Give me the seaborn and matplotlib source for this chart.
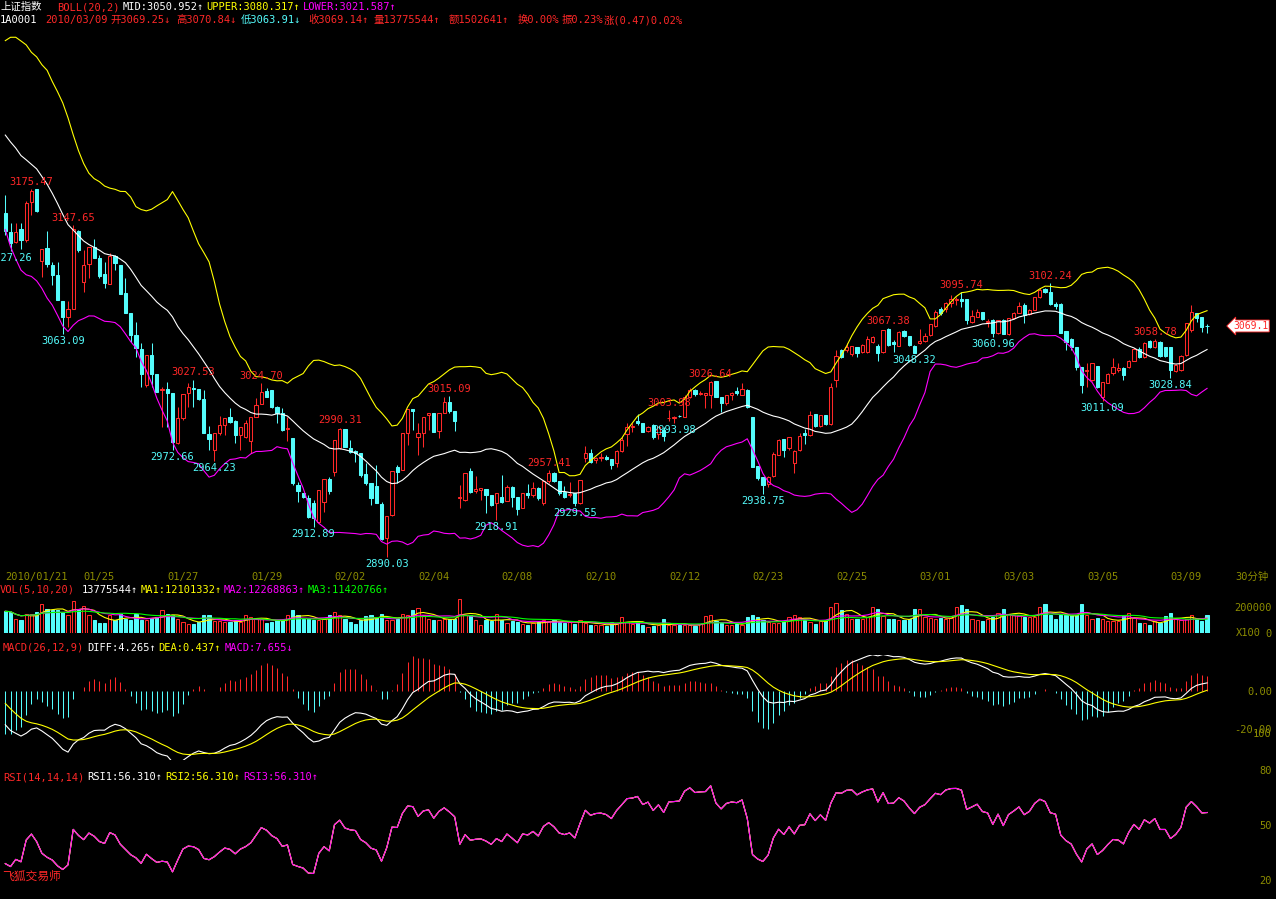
import numpy as np
import pandas as pd
import matplotlib
matplotlib.use("Agg")
import matplotlib.pyplot as plt
import seaborn as sns

# ---------------------------------------------------------------------------
# 上证指数 30-minute bars, 2010/01/21 (last 7 bars) .. 2010/03/09
# ---------------------------------------------------------------------------
# closes before the visible window (01/15 .. first bar of 01/21),
# only used to warm up BOLL / MACD / RSI
warmup_close = [3205, 3222, 3208, 3226, 3212, 3230, 3218, 3224,
                3240, 3222, 3236, 3218, 3233, 3224, 3241, 3237,
                3252, 3231, 3245, 3228, 3248, 3236, 3252, 3247,
                3245, 3240, 3228, 3215, 3200, 3185, 3165, 3152, 3157]

opens = [
    3156.6, 3141.8, 3134.0, 3144.1, 3135.9, 3165.6, 3175.2,
    3119.6, 3129.4, 3116.4, 3108.7, 3088.5, 3076.3, 3082.5, 3143.1,
    3103.5, 3117.0, 3130.2, 3121.6, 3109.5, 3101.4, 3123.4, 3116.4,
    3094.4, 3079.4, 3062.1, 3051.2, 3023.3, 3046.6, 3031.8, 3019.4,
    3020.2, 3017.3, 2978.0, 2997.4, 3016.8, 3020.7, 3019.9, 3012.2,
    2985.0, 2972.9, 2985.8, 2992.3, 2998.8, 2995.4, 2984.5, 2983.2,
    2980.1, 2998.3, 3008.3, 3019.0, 3019.5, 3006.0, 3001.4, 2989.4,
    2981.9, 2945.7, 2939.8, 2935.4, 2932.0, 2917.2, 2932.8, 2950.1,
    2956.1, 2974.2, 2989.4, 2974.2, 2972.4, 2970.8, 2954.0, 2947.0,
    2944.9, 2931.0, 2904.3, 2922.4, 2959.4, 2957.4, 2986.3, 3004.5,
    2983.2, 2986.3, 3000.1, 3001.4, 2987.9, 3001.9, 3010.4, 3003.4,
    2935.5, 2934.1, 2956.6, 2941.3, 2941.8, 2942.6, 2937.7, 2931.5,
    2936.7, 2933.5, 2944.4, 2936.1, 2927.6, 2939.8, 2938.0, 2943.1,
    2932.0, 2949.1, 2955.3, 2948.8, 2940.5, 2938.0, 2939.8, 2931.5,
    2966.4, 2970.3, 2965.1, 2966.4, 2967.7, 2965.6, 2962.5, 2972.4,
    2985.3, 2990.5, 2995.4, 2993.6, 2987.9, 2992.3, 2985.3, 2988.4,
    2997.5, 2997.9, 2999.6, 2998.8, 3014.3, 3019.5, 3016.0, 3015.6,
    3015.6, 3026.6, 3014.3, 3009.1, 3015.6, 3019.0, 3015.6, 3019.5,
    2998.3, 2960.5, 2951.7, 2946.5, 2952.7, 2969.0, 2981.2, 2974.2,
    2963.1, 2972.9, 2985.8, 2984.5, 3000.9, 2991.5, 3000.1, 2993.1,
    3027.2, 3050.5, 3050.5, 3047.4, 3052.6, 3049.2, 3049.2, 3057.0,
    3053.6, 3049.2, 3066.5, 3057.0, 3053.6, 3065.2, 3061.4, 3053.6,
    3056.2, 3057.7, 3062.1, 3069.1, 3082.1, 3082.1, 3086.7, 3089.3,
    3089.8, 3089.8, 3072.5, 3076.4, 3080.2, 3072.5, 3073.8, 3063.4,
    3073.8, 3062.9, 3075.1, 3079.5, 3085.4, 3078.4, 3081.5, 3091.4,
    3097.6, 3095.8, 3086.2, 3086.2, 3065.5, 3058.8, 3052.6, 3037.6,
    3034.5, 3027.2, 3038.1, 3014.3, 3025.2, 3032.4, 3035.0, 3036.3,
    3037.1, 3042.2, 3051.0, 3045.3, 3057.8, 3052.6, 3057.0, 3052.6,
    3052.6, 3034.2, 3035.0, 3046.6, 3066.0, 3079.0, 3076.4, 3069.25,
]
highs = [
    3170.8, 3148.8, 3148.8, 3148.8, 3166.4, 3175.47, 3175.3,
    3129.1, 3142.8, 3118.8, 3118.8, 3088.5, 3088.5, 3147.65, 3143.6,
    3128.1, 3130.2, 3136.6, 3124.2, 3119.0, 3125.5, 3124.2, 3116.4,
    3106.1, 3079.4, 3072.4, 3055.6, 3046.6, 3055.6, 3031.8, 3022.0,
    3026.0, 3017.3, 3006.5, 3016.3, 3024.6, 3027.53, 3019.9, 3019.5,
    2991.5, 2985.8, 2999.3, 2998.0, 3005.2, 2996.2, 2990.5, 2996.2,
    2998.3, 3013.0, 3024.70, 3020.8, 3019.5, 3007.0, 3005.2, 2998.8,
    2981.9, 2948.3, 2939.8, 2937.9, 2934.1, 2941.8, 2950.1, 2952.2,
    2980.7, 2990.31, 2989.4, 2980.7, 2972.9, 2970.8, 2962.5, 2947.0,
    2961.2, 2932.8, 2921.6, 2956.8, 2961.2, 2985.8, 3004.5, 3004.5,
    2993.6, 2998.8, 3001.4, 3001.9, 3001.9, 3013.8, 3015.09, 3003.4,
    2945.7, 2955.3, 2958.7, 2952.7, 2943.1, 2942.6, 2937.7, 2939.2,
    2953.5, 2945.7, 2944.9, 2936.1, 2939.8, 2946.5, 2948.3, 2943.9,
    2949.1, 2957.41, 2956.1, 2948.8, 2944.9, 2948.3, 2939.8, 2949.6,
    2976.0, 2973.4, 2967.2, 2970.3, 2969.0, 2965.6, 2972.9, 2983.2,
    2993.6, 2993.6, 3000.9, 2993.6, 2991.5, 2993.1, 2991.5, 2990.5,
    3003.98, 2999.3, 2999.8, 3015.6, 3020.8, 3020.5, 3019.0, 3017.4,
    3026.64, 3026.6, 3014.3, 3015.6, 3018.2, 3021.6, 3024.7, 3020.0,
    2998.3, 2960.5, 2951.7, 2952.7, 2971.6, 2981.2, 2981.2, 2983.2,
    2972.9, 2985.8, 2988.9, 3003.4, 3000.9, 3000.1, 3000.1, 3025.2,
    3050.5, 3051.0, 3056.2, 3053.6, 3052.6, 3055.1, 3061.4, 3061.4,
    3055.1, 3066.0, 3067.38, 3058.3, 3065.5, 3066.0, 3061.4, 3054.4,
    3066.5, 3063.4, 3070.7, 3081.5, 3084.1, 3088.0, 3093.2, 3091.9,
    3095.74, 3089.8, 3081.5, 3082.1, 3080.2, 3074.3, 3074.3, 3073.8,
    3074.3, 3075.1, 3080.2, 3088.0, 3086.7, 3082.1, 3091.9, 3098.4,
    3099.0, 3102.24, 3087.5, 3086.7, 3065.5, 3059.6, 3053.1, 3037.6,
    3040.2, 3040.7, 3038.1, 3026.0, 3032.4, 3044.1, 3040.2, 3037.1,
    3042.8, 3051.8, 3052.6, 3057.0, 3058.3, 3058.78, 3057.8, 3053.1,
    3053.1, 3039.6, 3046.6, 3071.7, 3085.4, 3079.5, 3076.4, 3070.84,
]
lows = [
    3139.7, 3127.26, 3133.8, 3128.9, 3134.6, 3155.3, 3157.8,
    3107.4, 3115.2, 3100.9, 3089.3, 3063.09, 3068.6, 3082.0, 3126.8,
    3095.7, 3106.1, 3122.1, 3106.1, 3098.3, 3101.4, 3112.6, 3094.0,
    3078.9, 3056.9, 3045.3, 3022.0, 3022.0, 3022.0, 3018.1, 2990.9,
    2990.9, 2972.66, 2977.5, 2996.1, 3006.5, 3006.0, 3011.6, 2985.8,
    2972.9, 2964.23, 2984.5, 2984.5, 2993.6, 2978.1, 2972.9, 2981.9,
    2970.3, 2998.3, 3008.3, 3014.3, 3005.2, 2993.6, 2987.9, 2980.1,
    2945.7, 2932.8, 2935.4, 2919.8, 2912.89, 2916.0, 2925.0, 2938.7,
    2952.7, 2973.4, 2975.0, 2970.3, 2963.8, 2952.2, 2945.7, 2930.2,
    2931.5, 2903.0, 2890.03, 2921.6, 2947.0, 2957.4, 2976.8, 2988.4,
    2969.0, 2975.5, 2988.4, 2986.6, 2982.0, 3001.9, 3001.4, 2987.9,
    2927.6, 2933.5, 2939.8, 2939.2, 2934.1, 2923.7, 2929.4, 2918.91,
    2931.5, 2933.5, 2928.9, 2922.4, 2927.6, 2935.4, 2936.7, 2934.1,
    2930.2, 2947.0, 2948.3, 2937.9, 2935.4, 2936.7, 2929.55, 2931.0,
    2963.8, 2963.1, 2962.5, 2964.6, 2965.1, 2957.9, 2960.0, 2971.6,
    2976.0, 2987.1, 2992.3, 2987.1, 2987.1, 2981.2, 2981.2, 2980.1,
    2995.0, 2993.98, 2998.6, 2998.8, 3013.0, 3014.5, 3015.5, 3005.2,
    3005.2, 3013.8, 3002.7, 3007.8, 3011.7, 3015.6, 3015.6, 3005.2,
    2959.4, 2949.6, 2938.75, 2944.4, 2951.7, 2969.0, 2967.7, 2972.9,
    2955.3, 2972.4, 2977.5, 2983.7, 2991.0, 2990.5, 2992.3, 2992.3,
    3022.1, 3044.0, 3049.2, 3045.8, 3044.8, 3048.4, 3048.4, 3055.7,
    3042.2, 3048.4, 3053.6, 3049.0, 3053.6, 3060.8, 3053.6, 3048.32,
    3055.1, 3057.0, 3061.4, 3068.6, 3077.7, 3080.2, 3084.1, 3085.4,
    3083.6, 3070.7, 3071.7, 3075.9, 3073.8, 3068.6, 3060.96, 3062.9,
    3062.9, 3062.1, 3074.3, 3078.9, 3071.2, 3077.7, 3081.5, 3090.6,
    3094.8, 3085.5, 3082.5, 3063.5, 3050.5, 3050.5, 3035.0, 3016.9,
    3022.1, 3026.7, 3020.8, 3011.09, 3024.6, 3031.1, 3033.7, 3027.2,
    3036.3, 3041.9, 3044.0, 3044.0, 3051.8, 3051.8, 3045.3, 3045.3,
    3028.84, 3033.7, 3034.5, 3045.8, 3064.7, 3072.5, 3064.7, 3063.91,
]
closes = [
    3142.8, 3133.8, 3142.3, 3135.9, 3164.8, 3174.2, 3158.4,
    3129.1, 3117.2, 3108.7, 3089.3, 3075.8, 3082.0, 3144.1, 3128.1,
    3116.4, 3130.2, 3122.1, 3107.9, 3102.7, 3123.4, 3117.7, 3094.0,
    3078.9, 3062.1, 3051.7, 3031.8, 3046.6, 3031.8, 3018.1, 3019.9,
    3017.3, 2979.3, 2997.4, 3016.3, 3021.5, 3019.9, 3012.2, 2985.8,
    2981.4, 2985.8, 2992.3, 2998.0, 2994.9, 2984.5, 2990.5, 2993.6,
    2998.3, 3007.8, 3018.2, 3014.3, 3006.0, 3001.4, 2988.4, 2989.9,
    2947.0, 2941.3, 2936.7, 2921.1, 2919.8, 2941.8, 2950.1, 2941.3,
    2980.7, 2989.2, 2975.0, 2971.6, 2970.3, 2953.5, 2947.0, 2935.4,
    2931.5, 2903.5, 2921.6, 2956.8, 2956.1, 2985.8, 3004.5, 3003.4,
    2986.3, 2998.8, 3001.4, 2987.1, 3001.9, 3009.9, 3003.4, 2995.7,
    2936.5, 2955.3, 2940.5, 2942.3, 2943.1, 2937.9, 2930.2, 2939.2,
    2932.8, 2944.4, 2936.1, 2926.8, 2939.8, 2938.0, 2943.1, 2935.4,
    2949.1, 2954.8, 2948.8, 2939.2, 2936.7, 2938.7, 2931.5, 2949.6,
    2970.3, 2963.8, 2966.6, 2967.2, 2965.6, 2961.2, 2972.1, 2980.7,
    2990.5, 2991.5, 2994.1, 2987.1, 2990.5, 2983.2, 2990.5, 2983.7,
    2997.9, 2998.4, 2999.1, 3013.8, 3019.5, 3016.0, 3017.0, 3017.4,
    3026.0, 3013.8, 3009.1, 3015.6, 3017.4, 3016.9, 3020.0, 3006.5,
    2960.0, 2950.9, 2945.7, 2951.7, 2969.8, 2980.7, 2972.9, 2982.7,
    2972.4, 2983.7, 2984.5, 3000.1, 2991.5, 3000.1, 2993.1, 3022.1,
    3046.0, 3045.3, 3052.6, 3053.6, 3048.4, 3054.4, 3058.8, 3060.8,
    3048.4, 3066.0, 3054.4, 3055.1, 3064.7, 3061.4, 3054.4, 3048.4,
    3057.5, 3061.4, 3070.7, 3080.2, 3079.0, 3087.2, 3089.8, 3090.0,
    3088.8, 3073.8, 3076.9, 3080.2, 3074.3, 3073.2, 3063.4, 3073.8,
    3062.9, 3075.1, 3079.5, 3084.6, 3077.7, 3081.5, 3091.4, 3097.1,
    3095.3, 3086.2, 3085.0, 3064.0, 3057.0, 3052.6, 3037.6, 3023.3,
    3035.3, 3040.2, 3022.1, 3026.0, 3031.9, 3037.1, 3036.3, 3031.1,
    3042.2, 3051.0, 3045.3, 3056.2, 3052.6, 3057.8, 3045.8, 3045.8,
    3035.0, 3038.9, 3045.8, 3071.2, 3080.2, 3075.1, 3068.6, 3069.14,
]
# volume in lots (x100 shares)
volume = [
    166700, 161500, 105100, 97400, 148700, 148700, 161500, 225600, 187200, 174400,
    174400, 161500, 135900, 243600, 187200, 207700, 135900, 97400, 79500, 76900,
    135900, 97400, 148700, 110300, 97400, 148700, 97400, 102600, 115400, 123100,
    174400, 148700, 135900, 110300, 84600, 71800, 71800, 84600, 135900, 135900,
    89700, 89700, 84600, 84600, 97400, 84600, 135900, 123100, 115400, 110300,
    79500, 84600, 97400, 97400, 141000, 174400, 135900, 110300,
    110300, 97400, 97400, 105100, 135900, 161500, 135900, 110300, 84600, 71800,
    97400, 130800, 135900, 123100, 148700, 97400, 97400, 110300, 148700, 135900,
    174400, 194900, 135900, 110300, 97400, 97400, 110300, 110300, 110300,
    259000,
    135900, 135900, 97400, 64100, 97400, 89700, 148700, 97400, 79500, 89700,
    84600, 71800, 64100, 79500, 84600, 97400, 89700, 97400, 84600,
    79500, 84600, 71800, 97400, 79500, 64100, 59000, 59000, 53800, 84600,
    71800, 123100, 84600, 71800, 89700,
    64100, 46200, 51300, 59000, 105100, 64100, 59000, 64100, 64100, 59000,
    53800, 71800, 128200, 141000, 89700, 79500, 64100, 59000, 71800, 64100,
    120500, 141000, 120500, 97400, 84600, 79500, 79500, 84600, 123100, 141000,
    123100, 97400, 84600, 71800, 89700, 97400, 200000, 233300, 174400, 148700,
    110300, 105100, 110300, 123100, 200000, 187200, 130800, 110300, 110300, 97400,
    97400, 105100, 182000, 182000, 123100, 115400, 110300, 115400, 110300, 115400,
    197400, 212800, 182000, 110300, 97400, 89700, 105100, 120500, 153800, 182000,
    148700, 135900, 141000, 123100, 123100, 123100, 197400, 220500, 141000, 110300,
    135900, 141000, 135900, 135900, 220500, 141000, 110300, 115400, 105100, 89700,
    89700, 89700, 135900, 156400, 115400, 79500, 79500, 64100, 89700, 79500,
    128200, 156400, 105100, 102600, 105100, 135900, 105100, 89700, 137755,
]

date_bars = [0, 15, 31, 47, 63, 79, 95, 111, 127, 143, 159, 175, 191, 207, 223]
date_labels = ["2010/01/21", "01/25", "01/27", "01/29", "02/02", "02/04", "02/08",
               "02/10", "02/12", "02/23", "02/25", "03/01", "03/03", "03/05", "03/09"]

peak_bars = [5, 13, 36, 49, 64, 85, 104, 127, 135, 169, 183, 200, 220]
trough_bars = [1, 11, 32, 40, 59, 73, 94, 109, 128, 145, 174, 189, 210, 223]

# ---------------------------------------------------------------------------
RED, CYAN, YEL, MAG, GRN, OLIVE = "#FF2828", "#54FCFC", "#FFFF00", "#FF00FF", "#00FF00", "#8C8C00"
plt.rcParams["font.family"] = ["DejaVu Sans Mono", "Noto Sans CJK SC"]
plt.rcParams["axes.unicode_minus"] = False
FS = 7.5

W, H = 1276, 899
fig = plt.figure(figsize=(W / 100, H / 100), dpi=100, facecolor="black")

O, Hi, Lo, C = map(np.asarray, (opens, highs, lows, closes))
x = np.arange(len(C))
n_warm = len(warmup_close)
all_close = pd.Series(warmup_close + closes, dtype=float)

# indicators
mid = all_close.rolling(20).mean()
sd = all_close.rolling(20).std()
upper, lower = mid + 2 * sd, mid - 2 * sd
ema12 = all_close.ewm(span=12, adjust=False).mean()
ema26 = all_close.ewm(span=26, adjust=False).mean()
diff = ema12 - ema26
dea = diff.ewm(span=9, adjust=False).mean()
macd = 2 * (diff - dea)
chg = all_close.diff().fillna(0)
rsi = 100 * chg.clip(lower=0).ewm(alpha=1 / 14, adjust=False).mean() / \
    chg.abs().ewm(alpha=1 / 14, adjust=False).mean()

vis = lambda s: s.iloc[n_warm:].to_numpy()
vol = pd.Series(volume, dtype=float)
vma = [vol.rolling(n, min_periods=1).mean().to_numpy() for n in (5, 10, 20)]

# bar geometry: bar 0 at 5.3 px, 5.225 px per bar, plot area 0..1215 px
X0, DX, RIGHT = 5.3, 5.225, 1215
XLIM = (-X0 / DX, (RIGHT - X0) / DX)


def px_axes(top, bottom):
    ax = fig.add_axes([0, 1 - bottom / H, RIGHT / W, (bottom - top) / H])
    ax.set_facecolor("none")
    ax.set_xlim(*XLIM)
    sns.despine(ax=ax, left=True, bottom=True, right=True, top=True)
    ax.tick_params(length=0, labelsize=FS)
    ax.set_xticks([])
    return ax


def right_ticks(ax, ticks, labels):
    ax.yaxis.tick_right()
    ax.set_yticks(ticks)
    ax.set_yticklabels(labels)
    ax.tick_params(axis="y", length=0, pad=41, labelcolor=OLIVE, labelsize=FS)
    for t in ax.get_yticklabels():
        t.set_horizontalalignment("right")


up = C >= O
edge = np.where(up, RED, CYAN)
face = np.where(up, "black", CYAN)

# ---- price panel -----------------------------------------------------------
axp = px_axes(20, 565)
axp.set_ylim(3322.2 - 0.7763 * 565, 3322.2 - 0.7763 * 20)
axp.set_yticks([])
axp.vlines(x, Lo, Hi, colors=edge, lw=0.75, zorder=2)
axp.bar(x, np.maximum(np.abs(C - O), 0.3), bottom=np.minimum(O, C), width=0.62,
        color=face, edgecolor=edge, linewidth=0.75, zorder=3)
for s, col in ((upper, YEL), (mid, "white"), (lower, MAG)):
    sns.lineplot(x=x, y=vis(s), ax=axp, color=col, linewidth=0.8, zorder=4)
for i in peak_bars:
    axp.annotate(f"{Hi[i]:.2f}", (i, Hi[i]), xytext=(0, 1.5), textcoords="offset points",
                 ha="center", va="bottom", color=RED, fontsize=FS,
                 annotation_clip=False, zorder=5)
for i in trough_bars:
    axp.annotate(f"{Lo[i]:.2f}", (i, Lo[i]), xytext=(0, -1.5), textcoords="offset points",
                 ha="center", va="top", color=CYAN, fontsize=FS,
                 annotation_clip=False, zorder=5)
axp.text(1233 / RIGHT, C[-1], f"{C[-1]:.1f}", transform=axp.get_yaxis_transform(),
         color=RED, fontsize=7, va="center", ha="left", clip_on=False,
         bbox=dict(boxstyle="larrow,pad=0.1", fc="white", ec=RED, lw=0.6))
axp.set_xticks(date_bars)
axp.set_xticklabels(date_labels, ha="left", color=OLIVE, fontsize=FS)
axp.tick_params(axis="x", length=0, pad=5)

# ---- volume panel ------------------------------------------------------------
axv = px_axes(595, 633)
axv.set_ylim(0, 200000 * (633 - 595) / (633 - 607))
axv.bar(x, volume, width=0.62, color=face, edgecolor=edge, linewidth=0.75)
for v, col in zip(vma, (YEL, MAG, GRN)):
    sns.lineplot(x=x, y=v, ax=axv, color=col, linewidth=0.8)
right_ticks(axv, [0, 200000], ["0", "200000"])
axv.text(1236 / RIGHT, 0, "X100", transform=axv.get_yaxis_transform(), color=OLIVE,
         fontsize=FS, va="center", ha="left")

# ---- MACD panel -------------------------------------------------------------
axm = px_axes(655, 760)
axm.set_ylim(-(760 - 691) / 1.9, (691 - 655) / 1.9)
m = vis(macd)
axm.vlines(x, 0, m, colors=np.where(m >= 0, RED, CYAN), lw=0.75)
sns.lineplot(x=x, y=vis(diff), ax=axm, color="white", linewidth=0.8)
sns.lineplot(x=x, y=vis(dea), ax=axm, color=YEL, linewidth=0.8)
right_ticks(axm, [0, -20], ["0.00", "-20.00"])

# ---- RSI panel --------------------------------------------------------------
axr = px_axes(733, 899)
axr.set_ylim(80 - (899 - 770) / (110 / 60), 100)
r = vis(rsi)
for col in ("white", YEL, MAG):
    sns.lineplot(x=x, y=r, ax=axr, color=col, linewidth=0.8)
right_ticks(axr, [20, 50, 80, 100], ["20", "50", "80", "100"])

for ax in (axp, axv, axm, axr):
    ax.set_ylabel("")
    ax.set_xlabel("")

# ---- header texts -----------------------------------------------------------
def put(px, py, s, col, size=FS):
    fig.text(px / W, 1 - py / H, s, color=col, fontsize=size, va="center", ha="left")


for px, s, col in [(0, "上证指数", "white"), (57, "BOLL(20,2)", RED),
                   (123, "MID:3050.952↑", "white"), (206, "UPPER:3080.317↑", YEL),
                   (303, "LOWER:3021.587↑", MAG)]:
    put(px, 7, s, col)
for px, s, col in [(0, "1A0001", "white"), (45, "2010/03/09", RED),
                   (110, "开3069.25↓", RED), (176, "高3070.84↓", RED),
                   (241, "低3063.91↓", CYAN), (308, "收3069.14↑", RED),
                   (373, "量13775544↑", RED), (449, "额1502641↑", RED),
                   (518, "换0.00%", RED), (562, "振0.23%", RED),
                   (604, "涨(0.47)0.02%", RED)]:
    put(px, 20, s, col)
for px, s, col in [(0, "VOL(5,10,20)", RED), (82, "13775544↑", "white"),
                   (141, "MA1:12101332↑", YEL), (224, "MA2:12268863↑", MAG),
                   (308, "MA3:11420766↑", GRN)]:
    put(px, 590, s, col)
for px, s, col in [(3, "MACD(26,12,9)", RED), (87, "DIFF:4.265↑", "white"),
                   (158, "DEA:0.437↑", YEL), (225, "MACD:7.655↓", MAG)]:
    put(px, 648, s, col)
for px, s, col in [(3, "RSI(14,14,14)", RED), (87, "RSI1:56.310↑", "white"),
                   (165, "RSI2:56.310↑", YEL), (243, "RSI3:56.310↑", MAG)]:
    put(px, 777, s, col)
put(2, 876, "飞狐交易师", RED, 8.5)
put(1235, 577, "30分钟", OLIVE)

fig.savefig("out.png", dpi=100, facecolor="black")
